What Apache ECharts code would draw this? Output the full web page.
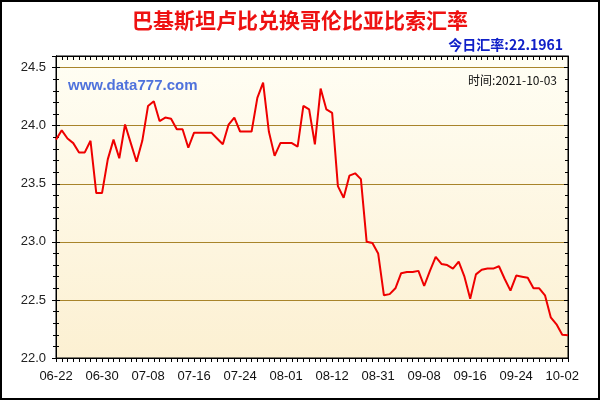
<!DOCTYPE html>
<html><head><meta charset="utf-8">
<script src="https://cdn.jsdelivr.net/npm/echarts@6/dist/echarts.min.js"></script>
<style>html,body{margin:0;padding:0;background:#fff}#c{width:600px;height:400px}</style>
</head><body><div id="c"></div>
<script>
var titleText = '巴基斯坦卢比兑换哥伦比亚比索汇率';
var todayText = '今日汇率:22.1961';
var siteText = 'www.data777.com';
var timeText = '时间:2021-10-03';
var dates = [
 '06-22','06-23','06-24','06-25','06-26','06-27','06-28','06-29','06-30',
 '07-01','07-02','07-03','07-04','07-05','07-06','07-07','07-08',
 '07-09','07-10','07-11','07-12','07-13','07-14','07-15','07-16',
 '07-17','07-18','07-19','07-20','07-21','07-22','07-23','07-24',
 '07-25','07-26','07-27','07-28','07-29','07-30','07-31','08-01',
 '08-02','08-03','08-04','08-05','08-08','08-09','08-10','08-12',
 '08-13','08-16','08-18','08-20','08-23','08-25','08-27','08-31',
 '09-01','09-02','09-03','09-04','09-05','09-06','09-07','09-08',
 '09-09','09-10','09-11','09-12','09-13','09-14','09-15','09-16',
 '09-17','09-18','09-19','09-20','09-21','09-22','09-23','09-24',
 '09-25','09-26','09-27','09-28','09-29','09-30','10-01','10-02','10-03'
];
var rates = [
 23.88,23.96,23.89,23.85,23.77,23.77,23.87,23.42,23.42,
 23.71,23.88,23.72,24.01,23.85,23.69,23.87,24.17,
 24.21,24.04,24.07,24.06,23.97,23.97,23.81,23.94,
 23.94,23.94,23.94,23.89,23.84,24.01,24.07,23.95,
 23.95,23.95,24.24,24.37,23.95,23.74,23.85,23.85,
 23.85,23.82,24.17,24.14,23.84,24.32,24.14,24.11,
 23.48,23.38,23.57,23.59,23.54,23.00,22.99,22.90,
 22.54,22.55,22.60,22.73,22.74,22.74,22.75,22.62,
 22.75,22.87,22.81,22.80,22.77,22.83,22.70,22.51,
 22.72,22.76,22.77,22.77,22.79,22.68,22.58,22.71,
 22.70,22.69,22.60,22.60,22.54,22.35,22.29,22.20,22.1961
];
var yMin = 22.0, yMax = 24.6, yStep = 0.5;

var chart = echarts.init(document.getElementById('c'), null, {renderer:'canvas'});
var font = '"Liberation Sans", Arial, sans-serif';
function yAx(pos, inside, labels) {
  return {
    type:'value', position:pos, min:yMin, max:yMax, interval:yStep,
    axisLine:{show:true, lineStyle:{color:'#000', width:1}},
    axisTick:{show:true, inside:inside, length:4, lineStyle:{color:'#000'}},
    minorTick:{show:true, splitNumber:5, length:3, lineStyle:{color:'#000'}},
    axisLabel:{show:labels, inside:false, margin:10, color:'#222', fontSize:13, fontFamily:font, showMaxLabel:false,
      formatter:function(v){return v.toFixed(1);}},
    splitLine:{show:labels, lineStyle:{color:'#a8842a', width:1}},
    minorSplitLine:{show:false}
  };
}
var option = {
  animation:false,
  backgroundColor:'#fff',
  title:[
    {text:titleText, left:'center', top:5, textStyle:{color:'#ee1111', fontSize:21, fontWeight:'bold', fontFamily:'"Noto Sans CJK SC", sans-serif'}},
    {text:todayText, right:32, top:33, textStyle:{color:'#1020c8', fontSize:14, fontWeight:'bold', fontFamily:'"Noto Sans CJK SC", sans-serif'}},
    {text:siteText, left:63, top:73, textStyle:{color:'#4f72dc', fontSize:15, fontWeight:'bold', fontFamily:font}},
    {text:timeText, right:38, top:69, textStyle:{color:'#111', fontSize:12, fontWeight:'normal', fontFamily:'"Noto Sans CJK SC", sans-serif'}}
  ],
  grid:{left:56, right:32, top:56, bottom:42, show:true, borderColor:'#000', borderWidth:1,
    backgroundColor:{type:'linear', x:0, y:0, x2:0, y2:1, colorStops:[{offset:0,color:'#fffef4'},{offset:1,color:'#fcf0d2'}]}},
  xAxis:[
    {type:'category', data:dates, boundaryGap:false, position:'bottom',
     axisLine:{lineStyle:{color:'#000'}},
     axisTick:{show:true, interval:0, length:4, lineStyle:{color:'#000'}},
     axisLabel:{interval:7, color:'#111', fontSize:13, fontFamily:font, margin:12},
     splitLine:{show:false}},
    {type:'category', data:dates, boundaryGap:false, position:'top',
     axisLine:{lineStyle:{color:'#000'}},
     axisTick:{show:true, interval:0, inside:true, length:4, lineStyle:{color:'#000'}},
     axisLabel:{show:false}, splitLine:{show:false}}
  ],
  yAxis:[ yAx('left', false, true), yAx('left', true, false), yAx('right', true, false) ],
  series:[{type:'line', data:rates, xAxisIndex:0, yAxisIndex:0, symbol:'none',
    lineStyle:{color:'#ee0000', width:2}, itemStyle:{color:'#ee0000'}}],
  graphic:[{type:'rect', shape:{x:1, y:1, width:598, height:398}, style:{fill:null, stroke:'#000', lineWidth:2}, silent:true, z:100}]
};
chart.setOption(option);
</script></body></html>
